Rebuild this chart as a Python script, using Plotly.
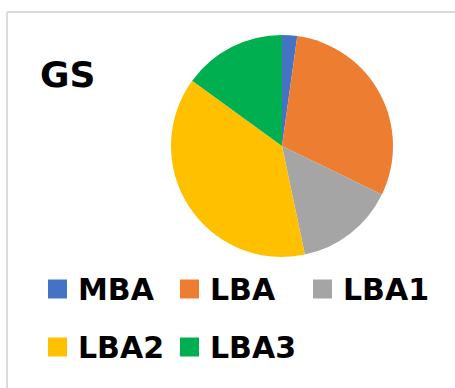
import plotly.graph_objects as go

# Share of each band in the GS sample
categories = ["MBA", "LBA", "LBA1", "LBA2", "LBA3"]
shares = [2.2, 30.0, 14.5, 38.3, 15.0]
colors = ["#4472C4", "#ED7D31", "#A5A5A5", "#FFC000", "#00B050"]
title_text = "GS"

W, H = 455, 388
FONT = "DejaVu Sans, Arial, sans-serif"

fig = go.Figure()
fig.add_trace(go.Pie(
    labels=categories,
    values=shares,
    marker=dict(colors=colors, line=dict(width=0)),
    sort=False,
    direction="clockwise",
    rotation=0,
    textinfo="none",
    hoverinfo="label+percent",
    showlegend=False,
    domain=dict(x=[(282 - 111) / W, (282 + 111) / W],
                y=[(H - 146 - 111) / H, (H - 146 + 111) / H]),
))

shapes = [
    # chart frame (left and top edges)
    dict(type="line", xref="paper", yref="paper", x0=7 / W, x1=7 / W, y0=0, y1=(H - 12) / H,
         line=dict(color="#DCDCDC", width=2)),
    dict(type="line", xref="paper", yref="paper", x0=7 / W, x1=1, y0=(H - 12) / H, y1=(H - 12) / H,
         line=dict(color="#DCDCDC", width=2)),
]
annotations = [
    dict(text="<b>" + title_text + "</b>", xref="paper", yref="paper",
         x=38 / W, y=(H - 74) / H, xanchor="left", yanchor="middle", showarrow=False,
         font=dict(family=FONT, size=36, color="#000000")),
]

# Hand-placed legend: three entries per row
col_x = [48, 180, 313]
row_y = [289, 347]
box = 19
for i, (name, col) in enumerate(zip(categories, colors)):
    r, c = divmod(i, 3)
    x0 = col_x[c]
    yc = row_y[r]
    shapes.append(dict(type="rect", xref="paper", yref="paper",
                       x0=x0 / W, x1=(x0 + box) / W,
                       y0=(H - yc - box / 2) / H, y1=(H - yc + box / 2) / H,
                       fillcolor=col, line=dict(width=0)))
    annotations.append(dict(text="<b>" + name + "</b>", xref="paper", yref="paper",
                            x=(x0 + box + 9) / W, y=(H - yc) / H,
                            xanchor="left", yanchor="middle", showarrow=False,
                            font=dict(family=FONT, size=30, color="#000000")))

fig.update_layout(
    width=W, height=H,
    margin=dict(l=0, r=0, t=0, b=0),
    paper_bgcolor="#FFFFFF",
    plot_bgcolor="#FFFFFF",
    shapes=shapes,
    annotations=annotations,
)

fig.write_html("out.html")
